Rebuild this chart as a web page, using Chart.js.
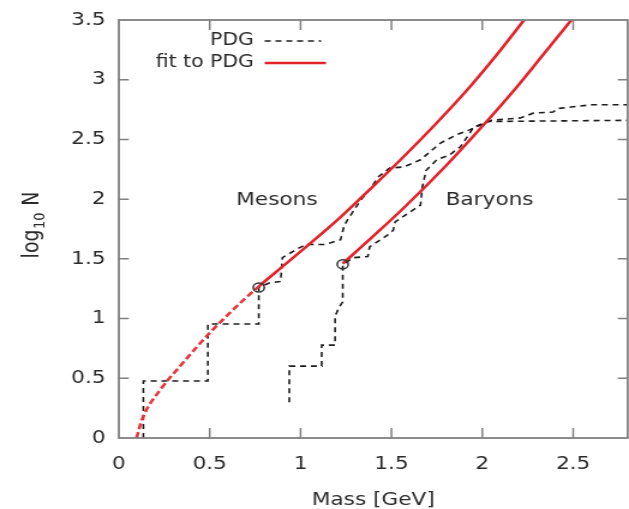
<!DOCTYPE html>
<html><head><meta charset="utf-8">
<script src="https://cdn.jsdelivr.net/npm/chart.js@4.4.1/dist/chart.umd.min.js"></script>
<style>
html,body{margin:0;padding:0;background:#fff;overflow:hidden;width:629px;height:509px;}
#wrap{width:529px;height:509px;transform:scaleX(1.2004);transform-origin:0 0;}
canvas{display:block;}
</style></head><body>
<div id="wrap"><canvas id="c" width="529" height="509"></canvas></div>
<script>
const xTicks = [0, 0.5, 1, 1.5, 2, 2.5];
const xTickLabels = ['0', '0.5', '1', '1.5', '2', '2.5'];
const yTicks = [0, 0.5, 1, 1.5, 2, 2.5, 3, 3.5];
const yTickLabels = ['0', '0.5', '1', '1.5', '2', '2.5', '3', '3.5'];

const mesonPdgX = [0.135,0.135,0.49,0.49,0.77,0.77,0.83,0.89,0.90,0.99,1.03,1.13,1.22,1.24,1.26,1.33,1.38,1.43,1.49,1.57,1.66,1.77,1.86,1.93,1.99,2.05,2.21,2.28,2.39,2.42,2.60,2.80];
const mesonPdgY = [0,0.477,0.477,0.954,0.954,1.26,1.30,1.31,1.51,1.59,1.62,1.62,1.66,1.78,1.83,1.99,2.08,2.19,2.26,2.27,2.33,2.47,2.54,2.58,2.62,2.66,2.68,2.72,2.73,2.76,2.79,2.79];
const baryonPdgX = [0.938,0.938,1.116,1.116,1.19,1.19,1.21,1.232,1.232,1.29,1.37,1.38,1.48,1.51,1.52,1.59,1.66,1.67,1.69,1.75,1.82,1.88,1.93,1.95,2.03,2.80];
const baryonPdgY = [0.30,0.602,0.602,0.778,0.778,1.02,1.09,1.14,1.45,1.51,1.52,1.60,1.70,1.74,1.81,1.88,1.95,2.10,2.24,2.33,2.37,2.44,2.55,2.60,2.65,2.66];
const mesonFitLowX = [0.098,0.12,0.143,0.226,0.353,0.50,0.686,0.77];
const mesonFitLowY = [0,0.12,0.21,0.40,0.63,0.88,1.156,1.27];
const mesonFitX = [0.77,1.03,1.22,1.38,1.55,1.75,1.92,2.075,2.23];
const mesonFitY = [1.27,1.60,1.85,2.08,2.33,2.64,2.92,3.20,3.50];
const baryonFitX = [1.232,1.40,1.57,1.80,2.00,2.19,2.34,2.49];
const baryonFitY = [1.46,1.69,1.93,2.28,2.61,2.94,3.22,3.50];
const markX = [0.77, 1.232];
const markY = [1.26, 1.455];
const legendLabels = ['PDG', 'fit to PDG'];
const regionLabels = ['Mesons', 'Baryons'];
const regionAnchorX = [0.87, 2.04];
const regionAnchorY = [1.99, 1.99];

const pts = (xs, ys) => xs.map((v, i) => ({x: v, y: ys[i]}));
const FONT = 'DejaVu Sans';
const TXT = '#2b2b2b';
const AXC = '#808080';
const RED = '#e2232a';
const BLK = '#1c1c1c';

const deco = {
  id: 'deco',
  afterDraw(chart) {
    const {ctx, chartArea: a, scales: {x, y}} = chart;
    ctx.save();
    ctx.strokeStyle = AXC; ctx.lineWidth = 1.5; ctx.setLineDash([]);
    ctx.beginPath();
    xTicks.forEach(v => {
      if (v <= x.min || v >= x.max) return;
      const p = x.getPixelForValue(v);
      ctx.moveTo(p, a.bottom); ctx.lineTo(p, a.bottom - 10);
      ctx.moveTo(p, a.top); ctx.lineTo(p, a.top + 10);
    });
    yTicks.forEach(v => {
      if (v <= y.min || v >= y.max) return;
      const p = y.getPixelForValue(v);
      ctx.moveTo(a.left, p); ctx.lineTo(a.left + 8.3, p);
      ctx.moveTo(a.right, p); ctx.lineTo(a.right - 8.3, p);
    });
    ctx.stroke();
    ctx.lineWidth = 1.8;
    ctx.strokeRect(a.left, a.top, a.right - a.left, a.bottom - a.top);

    ctx.fillStyle = TXT;
    ctx.font = '17px "' + FONT + '"';
    ctx.textAlign = 'right'; ctx.textBaseline = 'middle';
    const lx = a.left + 112.5, ly1 = a.top + 21, ly2 = a.top + 43;
    ctx.fillText(legendLabels[0], lx, ly1);
    ctx.fillText(legendLabels[1], lx, ly2);
    ctx.beginPath(); ctx.strokeStyle = BLK; ctx.lineWidth = 1.6; ctx.setLineDash([5, 4]);
    ctx.moveTo(lx + 9, ly1); ctx.lineTo(lx + 56, ly1); ctx.stroke();
    ctx.beginPath(); ctx.strokeStyle = RED; ctx.lineWidth = 2.6; ctx.setLineDash([]);
    ctx.moveTo(lx + 9, ly2); ctx.lineTo(lx + 60, ly2); ctx.stroke();

    ctx.fillStyle = TXT; ctx.font = '18px "' + FONT + '"'; ctx.textAlign = 'center';
    regionLabels.forEach((t, i) => {
      ctx.fillText(t, x.getPixelForValue(regionAnchorX[i]), y.getPixelForValue(regionAnchorY[i]));
    });

    const cx = 27.5, cy = 225;
    ctx.translate(cx, cy); ctx.rotate(-Math.PI / 2);
    ctx.textAlign = 'left';
    const fMain = '19px "' + FONT + '"', fSub = '13px "' + FONT + '"';
    ctx.font = fMain; const w1 = ctx.measureText('log').width; const w3 = ctx.measureText(' N').width;
    ctx.font = fSub; const w2 = ctx.measureText('10').width + 1;
    let sx = -(w1 + w2 + w3) / 2;
    ctx.font = fMain; ctx.fillText('log', sx, 0); sx += w1;
    ctx.font = fSub; ctx.fillText('10', sx + 0.5, 6); sx += w2;
    ctx.font = fMain; ctx.fillText(' N', sx, 0);
    ctx.restore();
  }
};

new Chart(document.getElementById('c'), {
  type: 'line',
  data: {
    datasets: [
      {label: 'markers', data: pts(markX, markY), showLine: false, pointRadius: 4.6, pointHoverRadius: 4.6,
       pointBorderWidth: 1.5, pointBorderColor: '#333', pointBackgroundColor: 'rgba(0,0,0,0)', order: 0},
      {label: 'fit meson low', data: pts(mesonFitLowX, mesonFitLowY), borderColor: '#e6353b', borderWidth: 2.6,
       borderDash: [6, 3], pointRadius: 0, cubicInterpolationMode: 'monotone', order: 1},
      {label: 'fit meson', data: pts(mesonFitX, mesonFitY), borderColor: RED, borderWidth: 2.6,
       pointRadius: 0, cubicInterpolationMode: 'monotone', order: 1},
      {label: 'fit baryon', data: pts(baryonFitX, baryonFitY), borderColor: RED, borderWidth: 2.6,
       pointRadius: 0, cubicInterpolationMode: 'monotone', order: 1},
      {label: 'PDG mesons', data: pts(mesonPdgX, mesonPdgY), borderColor: BLK, borderWidth: 1.6,
       borderDash: [5, 4], pointRadius: 0, tension: 0, order: 2},
      {label: 'PDG baryons', data: pts(baryonPdgX, baryonPdgY), borderColor: BLK, borderWidth: 1.6,
       borderDash: [5, 4], pointRadius: 0, tension: 0, order: 2}
    ]
  },
  options: {
    responsive: false, animation: false, devicePixelRatio: 1,
    layout: {padding: {top: 20, right: 1, bottom: 0, left: 0}},
    plugins: {legend: {display: false}, tooltip: {enabled: false}},
    scales: {
      x: {
        type: 'linear', min: 0, max: 2.8,
        afterBuildTicks: s => { s.ticks = xTicks.map(v => ({value: v})); },
        afterFit: s => { s.height = 71; s.paddingLeft = 0; s.paddingRight = 0; },
        grid: {display: false, drawTicks: false}, border: {display: false},
        ticks: {callback: v => xTickLabels[xTicks.indexOf(v)], font: {family: FONT, size: 18}, color: TXT,
                padding: 16, maxRotation: 0, autoSkip: false},
        title: {display: true, text: 'Mass [GeV]', font: {family: FONT, size: 18}, color: TXT, padding: {top: 0, bottom: -2}}
      },
      y: {
        type: 'linear', min: 0, max: 3.5,
        afterBuildTicks: s => { s.ticks = yTicks.map(v => ({value: v})); },
        afterFit: s => { s.width = 99; s.paddingTop = 0; s.paddingBottom = 0; },
        grid: {display: false, drawTicks: false}, border: {display: false},
        ticks: {callback: v => yTickLabels[yTicks.indexOf(v)], font: {family: FONT, size: 18}, color: TXT,
                padding: 11, autoSkip: false}
      }
    }
  },
  plugins: [deco]
});
</script>
</body></html>
